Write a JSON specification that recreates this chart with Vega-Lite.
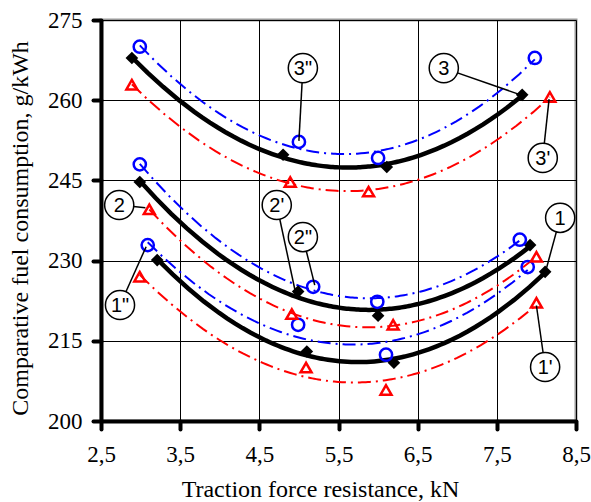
{
  "$schema": "https://vega.github.io/schema/vega-lite/v6.json",
  "width": 475,
  "height": 401,
  "autosize": {"type": "none"},
  "padding": {"left": 101, "top": 20, "right": 15, "bottom": 81},
  "background": "white",
  "config": {
    "view": {"stroke": "#999999", "strokeWidth": 3},
    "font": "Liberation Serif"
  },
  "datasets": {
    "pts": [
      {"g": 3, "s": "m", "x": 2.89, "y": 267.9},
      {"g": 3, "s": "m", "x": 4.80, "y": 249.8},
      {"g": 3, "s": "m", "x": 6.11, "y": 247.5},
      {"g": 3, "s": "m", "x": 7.82, "y": 261.0},
      {"g": 3, "s": "d", "x": 2.99, "y": 270.0},
      {"g": 3, "s": "d", "x": 5.00, "y": 252.2},
      {"g": 3, "s": "d", "x": 6.00, "y": 249.2},
      {"g": 3, "s": "d", "x": 7.98, "y": 267.9},
      {"g": 3, "s": "p", "x": 2.89, "y": 262.9},
      {"g": 3, "s": "p", "x": 4.89, "y": 244.7},
      {"g": 3, "s": "p", "x": 5.88, "y": 242.9},
      {"g": 3, "s": "p", "x": 8.17, "y": 260.6},
      {"g": 2, "s": "m", "x": 2.99, "y": 244.7},
      {"g": 2, "s": "m", "x": 4.99, "y": 224.2},
      {"g": 2, "s": "m", "x": 6.00, "y": 219.7},
      {"g": 2, "s": "m", "x": 7.92, "y": 232.9},
      {"g": 2, "s": "d", "x": 2.99, "y": 248.0},
      {"g": 2, "s": "d", "x": 5.18, "y": 225.1},
      {"g": 2, "s": "d", "x": 5.99, "y": 222.3},
      {"g": 2, "s": "d", "x": 7.79, "y": 233.9},
      {"g": 2, "s": "p", "x": 3.11, "y": 239.6},
      {"g": 2, "s": "p", "x": 4.91, "y": 220.0},
      {"g": 2, "s": "p", "x": 6.19, "y": 218.0},
      {"g": 2, "s": "p", "x": 8.00, "y": 230.7},
      {"g": 1, "s": "m", "x": 3.21, "y": 230.1},
      {"g": 1, "s": "m", "x": 5.10, "y": 213.0},
      {"g": 1, "s": "m", "x": 6.20, "y": 210.9},
      {"g": 1, "s": "m", "x": 8.11, "y": 227.9},
      {"g": 1, "s": "d", "x": 3.09, "y": 232.9},
      {"g": 1, "s": "d", "x": 4.99, "y": 218.0},
      {"g": 1, "s": "d", "x": 6.10, "y": 212.4},
      {"g": 1, "s": "d", "x": 7.89, "y": 228.8},
      {"g": 1, "s": "p", "x": 2.99, "y": 227.0},
      {"g": 1, "s": "p", "x": 5.09, "y": 210.0},
      {"g": 1, "s": "p", "x": 6.10, "y": 205.8},
      {"g": 1, "s": "p", "x": 8.00, "y": 222.1}
    ],
    "labels": [
      {"t": "3\"", "x": 5.05, "y": 266.0, "x2": 5.00, "y2": 252.4},
      {"t": "3", "x": 6.83, "y": 266.0, "x2": 7.80, "y2": 261.0},
      {"t": "3'", "x": 8.08, "y": 249.2, "x2": 8.16, "y2": 260.2},
      {"t": "2", "x": 2.73, "y": 240.4, "x2": 3.06, "y2": 239.9},
      {"t": "2'", "x": 4.72, "y": 240.4, "x2": 4.95, "y2": 224.5},
      {"t": "2\"", "x": 5.05, "y": 234.4, "x2": 5.20, "y2": 225.4},
      {"t": "1", "x": 8.30, "y": 238.0, "x2": 8.12, "y2": 228.2},
      {"t": "1'", "x": 8.11, "y": 210.1, "x2": 8.00, "y2": 221.6},
      {"t": "1\"", "x": 2.74, "y": 221.7, "x2": 3.07, "y2": 232.6}
    ]
  },
  "layer": [
    {
      "data": {"name": "pts"},
      "transform": [
        {"filter": "datum.s === 'p'"},
        {"regression": "y", "on": "x", "method": "poly", "order": 2, "groupby": ["g"]}
      ],
      "mark": {"type": "line", "color": "#FF0000", "strokeWidth": 2, "strokeDash": [13, 5, 2, 5]},
      "encoding": {
        "x": {
          "field": "x", "type": "quantitative",
          "scale": {"domain": [2.5, 8.5], "nice": false, "zero": false},
          "axis": {
            "values": [2.5, 3.5, 4.5, 5.5, 6.5, 7.5, 8.5],
            "labelExpr": "replace(format(datum.value, '.1f'), '.', ',')",
            "title": "Traction force resistance, kN",
            "grid": true, "gridColor": "#000000", "gridWidth": 1, "gridOpacity": 1,
            "domainColor": "#000000", "domainWidth": 4,
            "tickColor": "#000000", "tickWidth": 4, "tickSize": 8, "tickCap": "round",
            "labelFont": "Liberation Serif", "labelFontSize": 23, "labelColor": "#000000",
            "labelBaseline": "middle", "labelPadding": 25, "labelFlush": false, "labelOverlap": false,
            "titleFont": "Liberation Serif", "titleFontSize": 24, "titleFontWeight": "normal", "titleColor": "#000000",
            "titleX": 219, "titleY": 68, "titleBaseline": "middle", "titleAlign": "center"
          }
        },
        "y": {
          "field": "y", "type": "quantitative",
          "scale": {"domain": [200, 275], "nice": false, "zero": false},
          "axis": {
            "values": [200, 215, 230, 245, 260, 275],
            "title": "Comparative fuel consumption, g/kWh",
            "grid": true, "gridColor": "#000000", "gridWidth": 1, "gridOpacity": 1,
            "domainColor": "#000000", "domainWidth": 4,
            "tickColor": "#000000", "tickWidth": 4, "tickSize": 8, "tickCap": "round",
            "labelFont": "Liberation Serif", "labelFontSize": 23, "labelColor": "#000000",
            "labelPadding": 11, "labelFlush": false, "labelOverlap": false,
            "titleFont": "Liberation Serif", "titleFontSize": 24, "titleFontWeight": "normal", "titleColor": "#000000",
            "titleX": -81, "titleY": 208, "titleAngle": -90, "titleBaseline": "middle", "titleAlign": "center"
          }
        },
        "detail": {"field": "g"}
      }
    },
    {
      "data": {"name": "pts"},
      "transform": [
        {"filter": "datum.s === 'd'"},
        {"regression": "y", "on": "x", "method": "poly", "order": 2, "groupby": ["g"]}
      ],
      "mark": {"type": "line", "color": "#0000FF", "strokeWidth": 2, "strokeDash": [13, 5, 2, 5]},
      "encoding": {
        "x": {"field": "x", "type": "quantitative"},
        "y": {"field": "y", "type": "quantitative"},
        "detail": {"field": "g"}
      }
    },
    {
      "data": {"name": "pts"},
      "transform": [
        {"filter": "datum.s === 'm'"},
        {"regression": "y", "on": "x", "method": "poly", "order": 2, "groupby": ["g"]}
      ],
      "mark": {"type": "line", "color": "#000000", "strokeWidth": 4.5},
      "encoding": {
        "x": {"field": "x", "type": "quantitative"},
        "y": {"field": "y", "type": "quantitative"},
        "detail": {"field": "g"}
      }
    },
    {
      "data": {"name": "pts"},
      "transform": [{"filter": "datum.s === 'm'"}],
      "mark": {"type": "point", "shape": "diamond", "filled": true, "color": "#000000", "size": 160, "opacity": 1},
      "encoding": {
        "x": {"field": "x", "type": "quantitative"},
        "y": {"field": "y", "type": "quantitative"}
      }
    },
    {
      "data": {"name": "pts"},
      "transform": [{"filter": "datum.s === 'd'"}],
      "mark": {"type": "point", "shape": "circle", "filled": false, "color": "#0000FF", "strokeWidth": 2.5, "size": 150, "opacity": 1},
      "encoding": {
        "x": {"field": "x", "type": "quantitative"},
        "y": {"field": "y", "type": "quantitative"}
      }
    },
    {
      "data": {"name": "pts"},
      "transform": [{"filter": "datum.s === 'p'"}],
      "mark": {"type": "point", "shape": "triangle-up", "filled": false, "color": "#FF0000", "strokeWidth": 2.5, "size": 120, "opacity": 1},
      "encoding": {
        "x": {"field": "x", "type": "quantitative"},
        "y": {"field": "y", "type": "quantitative"}
      }
    },
    {
      "data": {"name": "labels"},
      "mark": {"type": "rule", "color": "#000000", "strokeWidth": 1.5},
      "encoding": {
        "x": {"field": "x", "type": "quantitative"},
        "y": {"field": "y", "type": "quantitative"},
        "x2": {"field": "x2"},
        "y2": {"field": "y2"}
      }
    },
    {
      "data": {"name": "labels"},
      "mark": {"type": "point", "shape": "circle", "filled": true, "fill": "#FFFFFF", "stroke": "#000000", "strokeWidth": 1.5, "size": 850, "opacity": 1, "fillOpacity": 1},
      "encoding": {
        "x": {"field": "x", "type": "quantitative"},
        "y": {"field": "y", "type": "quantitative"}
      }
    },
    {
      "data": {"name": "labels"},
      "mark": {"type": "text", "font": "Liberation Sans", "fontSize": 20, "color": "#000000", "align": "center", "baseline": "middle", "dy": 1},
      "encoding": {
        "x": {"field": "x", "type": "quantitative"},
        "y": {"field": "y", "type": "quantitative"},
        "text": {"field": "t"}
      }
    }
  ]
}
